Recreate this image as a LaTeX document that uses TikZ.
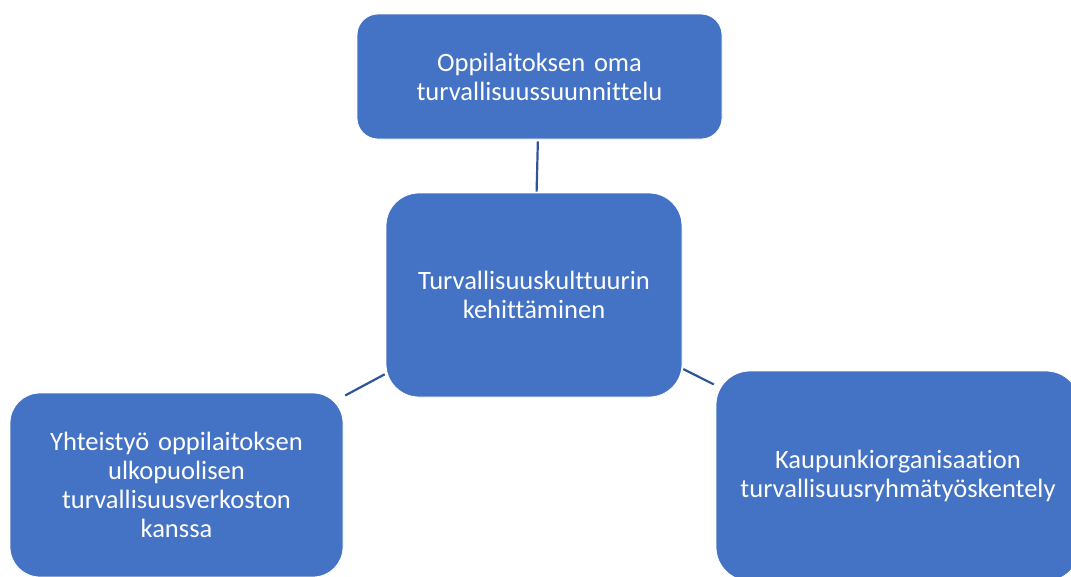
\documentclass[tikz,border=0pt]{standalone}
\usepackage{fontspec}
\setmainfont[Ligatures=NoCommon]{Carlito}
\definecolor{boxblue}{HTML}{4472C4}
\definecolor{lineblue}{HTML}{2F5597}
\begin{document}
\begin{tikzpicture}[x=1pt,y=-1pt,
  box/.style={rectangle,fill=boxblue,draw=white,line width=0.8pt,inner sep=0pt,
    text=white,align=center,font=\fontsize{26.5}{29}\selectfont},
  link/.style={draw=lineblue,line width=2.2pt}]
\useasboundingbox (0,0) rectangle (1071,576);
\clip (0,0) rectangle (1071,576);
\node[box,rounded corners=21pt,minimum width=365pt,minimum height=125pt,text width=340pt] (top) at (539.5,76.5)
  {Oppilaitoksen oma\\turvallisuussuunnittelu};
\node[box,rounded corners=33pt,minimum width=296pt,minimum height=204pt,text width=280pt] (mid) at (534,295)
  {Turvallisuuskulttuurin\\kehittäminen};
\node[box,rounded corners=30pt,minimum width=333pt,minimum height=184pt,text width=320pt] (left) at (176.5,485)
  {Yhteistyö oppilaitoksen\\ulkopuolisen\\turvallisuusverkoston\\kanssa};
\node[box,rounded corners=34pt,minimum width=364pt,minimum height=210pt,text width=350pt] (right) at (898,476)
  {Kaupunkiorganisaation\\turvallisuusryhmätyöskentely};
\draw[link,shorten <=2pt,shorten >=1pt] (top) -- (mid);
\draw[link,shorten <=1pt,shorten >=2pt] (mid) -- (left);
\draw[link,shorten <=1pt,shorten >=2pt] (mid) -- (right);
\end{tikzpicture}
\end{document}
